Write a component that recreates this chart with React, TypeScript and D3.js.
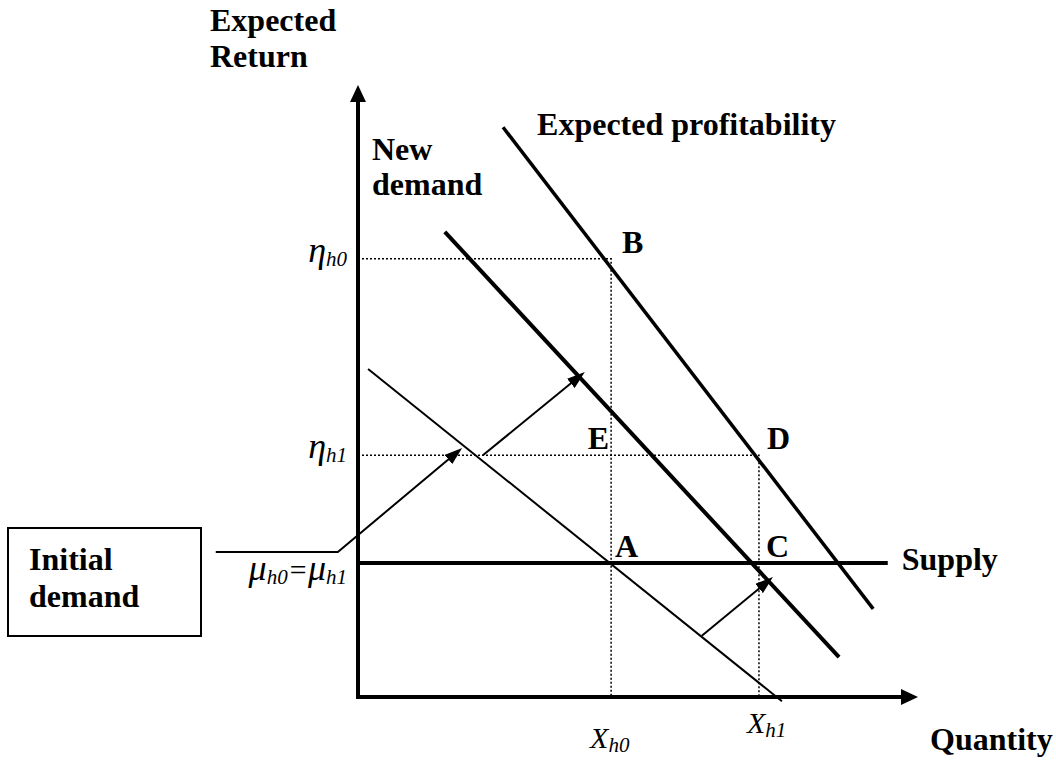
import React, { useEffect, useRef } from 'react';
import * as d3 from 'd3';

// Quantity levels (X_h0, X_h1) on the horizontal axis, 0..100 scale
const quantityLevels = [45.2, 71.6];
const quantitySubs = ['h0', 'h1'];

// Return levels (eta_h0, eta_h1, mu_h0 = mu_h1) on the vertical axis, 0..100 scale
const returnLevels = [71.6, 39.5, 21.9];
const returnLabelParts: [string, boolean][][] = [
  [['η', false], ['h0', true]],
  [['η', false], ['h1', true]],
  [['μ', false], ['h0', true], ['=', false], ['μ', false], ['h1', true]],
];

// Curves as [quantity, return] end points
const initialDemand: [number, number][] = [[1.8, 53.6], [75.7, -0.7]];
const newDemand: [number, number][] = [[15.5, 76.0], [85.9, 6.5]];
const profitability: [number, number][] = [[25.9, 93.1], [92.0, 14.4]];
const supply: [number, number][] = [[0, returnLevels[2]], [94.6, returnLevels[2]]];

// Shift arrows (the first one is the leader from the "Initial demand" box)
const shiftArrows: [number, number][][] = [
  [[-25.4, 23.7], [-3.6, 23.7], [18.6, 40.7]],
  [[22.3, 39.5], [40.5, 53.1]],
  [[61.4, 10.0], [74.1, 19.6]],
];

// Labelled points: index into quantityLevels / returnLevels
const pointNames = ['A', 'B', 'C', 'D', 'E'];
const pointQ = [0, 0, 1, 1, 0];
const pointR = [2, 0, 2, 1, 1];

const App = () => {
  const svgRef = useRef<SVGSVGElement | null>(null);

  useEffect(() => {
    const svg = d3.select(svgRef.current);
    svg.selectAll('*').remove();

    const font = '"Liberation Serif", "Times New Roman", serif';
    const x = d3.scaleLinear().domain([0, 100]).range([358, 918]);
    const y = d3.scaleLinear().domain([0, 100]).range([697, 85]);
    const line = d3.line();

    // arrow heads
    const defs = svg.append('defs');
    const marker = (id: string, len: number, wid: number) => {
      defs.append('marker')
        .attr('id', id)
        .attr('viewBox', `0 0 ${len} ${wid}`)
        .attr('refX', len - 6)
        .attr('refY', wid / 2)
        .attr('markerWidth', len)
        .attr('markerHeight', wid)
        .attr('markerUnits', 'userSpaceOnUse')
        .attr('orient', 'auto')
        .append('path')
        .attr('d', `M0,0 L${len},${wid / 2} L0,${wid} Z`)
        .attr('fill', '#000');
    };
    marker('axisHead', 17, 16);
    marker('smallHead', 18, 12);

    // pixel points, last segment cut back so the head tip lands on the end point
    const toPx = (pts: [number, number][], cut: number) => {
      const p = pts.map(([a, b]) => [x(a), y(b)] as [number, number]);
      if (cut > 0) {
        const n = p.length;
        const [x1, y1] = p[n - 2];
        const [x2, y2] = p[n - 1];
        const len = Math.hypot(x2 - x1, y2 - y1);
        p[n - 1] = [x2 - ((x2 - x1) * cut) / len, y2 - ((y2 - y1) * cut) / len];
      }
      return p;
    };

    // dotted guides
    const guides: [number, number][][] = [
      [[0, returnLevels[0]], [quantityLevels[0], returnLevels[0]], [quantityLevels[0], 0]],
      [[0, returnLevels[1]], [quantityLevels[1], returnLevels[1]], [quantityLevels[1], 0]],
    ];
    svg.selectAll('.guide')
      .data(guides)
      .enter()
      .append('path')
      .attr('class', 'guide')
      .attr('d', d => line(toPx(d, 0)))
      .attr('fill', 'none')
      .attr('stroke', '#000')
      .attr('stroke-width', 1.5)
      .attr('stroke-dasharray', '2,2');

    // curves
    const curves = [initialDemand, newDemand, profitability, supply];
    const widths = [2, 4, 3.5, 4];
    svg.selectAll('.curve')
      .data(curves)
      .enter()
      .append('path')
      .attr('class', 'curve')
      .attr('d', d => line(toPx(d, 0)))
      .attr('fill', 'none')
      .attr('stroke', '#000')
      .attr('stroke-width', (d, i) => widths[i]);

    // axes
    svg.append('path')
      .attr('d', line([[x(0), y(0) + 2], [x(0), y(100) + 6]]))
      .attr('stroke', '#000')
      .attr('stroke-width', 4)
      .attr('marker-end', 'url(#axisHead)');
    svg.append('path')
      .attr('d', line([[x(0) - 2, y(0)], [x(100) - 6, y(0)]]))
      .attr('stroke', '#000')
      .attr('stroke-width', 4)
      .attr('marker-end', 'url(#axisHead)');

    // shift arrows
    svg.selectAll('.shift')
      .data(shiftArrows)
      .enter()
      .append('path')
      .attr('class', 'shift')
      .attr('d', d => line(toPx(d, 6)))
      .attr('fill', 'none')
      .attr('stroke', '#000')
      .attr('stroke-width', 2)
      .attr('marker-end', 'url(#smallHead)');

    // "Initial demand" box
    svg.append('rect')
      .attr('x', 8)
      .attr('y', 528)
      .attr('width', 193)
      .attr('height', 108)
      .attr('fill', 'none')
      .attr('stroke', '#000')
      .attr('stroke-width', 2);

    const bold = (tx: number, ty: number, s: string) =>
      svg.append('text')
        .attr('x', tx)
        .attr('y', ty)
        .style('font-family', font)
        .style('font-weight', 'bold')
        .style('font-size', '32px')
        .text(s);

    bold(29, 570, 'Initial');
    bold(29, 607, 'demand');
    bold(210, 31, 'Expected');
    bold(210, 67, 'Return');
    bold(930, 750, 'Quantity');
    bold(x(supply[1][0]) + 14, y(supply[1][1]) + 7, 'Supply');
    bold(x(profitability[0][0]) + 34, y(profitability[0][1]) + 8, 'Expected profitability');
    bold(372, 160, 'New');
    bold(372, 195, 'demand');

    // point letters
    const offsets: Record<string, [number, number, string]> = {
      A: [4, -6, 'start'],
      B: [11, -6, 'start'],
      C: [7, -6, 'start'],
      D: [8, -6, 'start'],
      E: [-2, -6, 'end'],
    };
    pointNames.forEach((name, i) => {
      const [dx, dy, anchor] = offsets[name];
      bold(x(quantityLevels[pointQ[i]]) + dx, y(returnLevels[pointR[i]]) + dy, name)
        .attr('text-anchor', anchor);
    });

    // italic labels with subscripts
    const subLabel = (tx: number, ty: number, parts: [string, boolean][], anchor: string, main: number) => {
      const t = svg.append('text')
        .attr('x', tx)
        .attr('y', ty)
        .attr('text-anchor', anchor)
        .style('font-family', font)
        .style('font-style', 'italic');
      let cur = 0;
      parts.forEach(([s, sub]) => {
        const shift = sub ? 4 : 0;
        const size = sub ? 21 : s === '=' ? 30 : main;
        t.append('tspan')
          .attr('dy', shift - cur)
          .style('font-size', `${size}px`)
          .text(s);
        cur = shift;
      });
    };

    returnLabelParts.forEach((parts, i) => {
      subLabel(347, y(returnLevels[i]) + (i === 2 ? 17 : 3), parts, 'end', 36);
    });

    quantityLevels.forEach((q, i) => {
      const ty = i === 0 ? 748 : 733;
      const dx = i === 0 ? -21 : -12;
      subLabel(x(q) + dx, ty, [['X', false], [quantitySubs[i], true]], 'start', 30);
    });
  }, []);

  return (
    <svg
      ref={svgRef}
      width={1056}
      height={762}
      style={{ position: 'absolute', left: 0, top: 0, background: '#fff' }}
    />
  );
};

export default App;
